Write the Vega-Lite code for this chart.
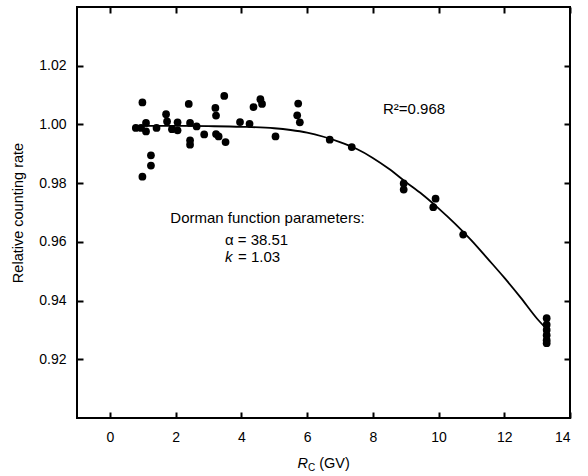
{
  "$schema": "https://vega.github.io/schema/vega-lite/v6.json",
  "autosize": "none",
  "width": 493,
  "height": 411,
  "padding": {"left": 77, "top": 7, "right": 18, "bottom": 58},
  "background": "white",
  "config": {
    "view": {"stroke": "black", "strokeWidth": 2},
    "font": "Liberation Sans",
    "axis": {
      "grid": false,
      "domain": false,
      "tickColor": "black",
      "tickWidth": 2,
      "tickSize": 6,
      "labelFont": "Liberation Sans",
      "labelFontSize": 14,
      "labelColor": "black",
      "titleFont": "Liberation Sans",
      "titleFontSize": 14.5,
      "titleFontWeight": "normal",
      "titleColor": "black"
    }
  },
  "datasets": {
    "curve": [
      {"R": 0.8, "rate": 0.9995},
      {"R": 2.0, "rate": 0.9995},
      {"R": 3.0, "rate": 0.9994},
      {"R": 4.0, "rate": 0.9992},
      {"R": 5.0, "rate": 0.9987},
      {"R": 5.5, "rate": 0.9981},
      {"R": 6.0, "rate": 0.9972},
      {"R": 6.5, "rate": 0.9958},
      {"R": 7.0, "rate": 0.9940},
      {"R": 7.5, "rate": 0.9917},
      {"R": 8.0, "rate": 0.9886},
      {"R": 8.5, "rate": 0.9848},
      {"R": 9.0, "rate": 0.9804},
      {"R": 9.5, "rate": 0.9762},
      {"R": 10.0, "rate": 0.9714},
      {"R": 10.5, "rate": 0.9662},
      {"R": 11.0, "rate": 0.9605},
      {"R": 11.5, "rate": 0.9542},
      {"R": 12.0, "rate": 0.9478},
      {"R": 12.5, "rate": 0.9410},
      {"R": 13.0, "rate": 0.9338},
      {"R": 13.3, "rate": 0.9302}
    ],
    "obs": [
      {"R": 0.79, "rate": 0.9988},
      {"R": 0.95, "rate": 0.9988},
      {"R": 0.99, "rate": 1.0075},
      {"R": 0.99, "rate": 0.9822},
      {"R": 1.10, "rate": 1.0005},
      {"R": 1.10, "rate": 0.9976},
      {"R": 1.25, "rate": 0.9895},
      {"R": 1.25, "rate": 0.9860},
      {"R": 1.42, "rate": 0.9988},
      {"R": 1.71, "rate": 1.0035},
      {"R": 1.74, "rate": 1.0010},
      {"R": 1.89, "rate": 0.9984},
      {"R": 2.06, "rate": 1.0007},
      {"R": 2.06, "rate": 0.9980},
      {"R": 2.40, "rate": 1.0070},
      {"R": 2.44, "rate": 1.0005},
      {"R": 2.44, "rate": 0.9946},
      {"R": 2.44, "rate": 0.9931},
      {"R": 2.64, "rate": 0.9993},
      {"R": 2.87, "rate": 0.9966},
      {"R": 3.21, "rate": 1.0056},
      {"R": 3.23, "rate": 1.0030},
      {"R": 3.23, "rate": 0.9967},
      {"R": 3.31, "rate": 0.9959},
      {"R": 3.52, "rate": 0.9940},
      {"R": 3.48, "rate": 1.0097},
      {"R": 3.96, "rate": 1.0008},
      {"R": 4.25, "rate": 1.0002},
      {"R": 4.37, "rate": 1.0059},
      {"R": 4.58, "rate": 1.0086},
      {"R": 4.63, "rate": 1.0070},
      {"R": 5.04, "rate": 0.9959},
      {"R": 5.73, "rate": 1.0071},
      {"R": 5.70, "rate": 1.0031},
      {"R": 5.78, "rate": 1.0007},
      {"R": 6.69, "rate": 0.9948},
      {"R": 7.36, "rate": 0.9923},
      {"R": 8.94, "rate": 0.9799},
      {"R": 8.94, "rate": 0.9778},
      {"R": 9.91, "rate": 0.9747},
      {"R": 9.84, "rate": 0.9718},
      {"R": 10.75, "rate": 0.9625},
      {"R": 13.29, "rate": 0.9340},
      {"R": 13.29, "rate": 0.9318},
      {"R": 13.29, "rate": 0.9300},
      {"R": 13.29, "rate": 0.9282},
      {"R": 13.29, "rate": 0.9265},
      {"R": 13.29, "rate": 0.9255}
    ],
    "notes": [
      {"R": 1.84, "rate": 0.9664, "label": "Dorman function parameters:", "size": 15},
      {"R": 3.50, "rate": 0.9588, "label": "α = 38.51", "size": 15},
      {"R": 3.90, "rate": 0.9533, "label": "= 1.03", "size": 15},
      {"R": 8.31, "rate": 1.0036, "label": "R²=0.968", "size": 15},
      {"R": 6.03, "rate": 0.8820, "label": "C", "size": 10},
      {"R": 6.37, "rate": 0.8830, "label": "(GV)", "size": 14.5}
    ],
    "italics": [
      {"R": 3.50, "rate": 0.9533, "label": "k", "size": 15},
      {"R": 5.71, "rate": 0.8830, "label": "R", "size": 14.5}
    ]
  },
  "layer": [
    {
      "data": {"name": "curve"},
      "mark": {"type": "line", "color": "black", "strokeWidth": 1.8, "interpolate": "monotone"},
      "encoding": {
        "x": {"field": "R", "type": "quantitative", "scale": {"domain": [-1, 14], "nice": false, "zero": false},
              "axis": {"orient": "bottom", "values": [0, 2, 4, 6, 8, 10, 12, 14], "title": null, "ticks": false, "tickSize": 0, "labelPadding": 12}},
        "y": {"field": "rate", "type": "quantitative", "scale": {"domain": [0.9, 1.04], "nice": false, "zero": false},
              "axis": {"orient": "left", "values": [0.92, 0.94, 0.96, 0.98, 1.0, 1.02], "format": ".2f", "title": "Relative counting rate", "ticks": false, "tickSize": 0, "labelPadding": 11, "titlePadding": 13}}
      }
    },
    {
      "data": {"name": "obs"},
      "mark": {"type": "circle", "color": "black", "opacity": 1, "size": 60},
      "encoding": {
        "x": {"field": "R", "type": "quantitative",
              "axis": {"orient": "top", "offset": -411, "values": [0, 2, 4, 6, 8, 10, 12, 14], "labels": false, "title": null}},
        "y": {"field": "rate", "type": "quantitative",
              "axis": {"orient": "right", "offset": -493, "values": [0.92, 0.94, 0.96, 0.98, 1.0, 1.02], "labels": false, "title": null}}
      }
    },
    {
      "data": {"name": "notes"},
      "mark": {"type": "text", "align": "left", "baseline": "alphabetic", "color": "black", "font": "Liberation Sans"},
      "encoding": {
        "x": {"field": "R", "type": "quantitative",
              "axis": {"orient": "bottom", "offset": -411, "values": [0, 2, 4, 6, 8, 10, 12, 14], "labels": false, "title": null}},
        "y": {"field": "rate", "type": "quantitative",
              "axis": {"orient": "left", "offset": -493, "values": [0.92, 0.94, 0.96, 0.98, 1.0, 1.02], "labels": false, "title": null}},
        "text": {"field": "label"},
        "size": {"field": "size", "type": "quantitative", "scale": null}
      }
    },
    {
      "data": {"name": "italics"},
      "mark": {"type": "text", "align": "left", "baseline": "alphabetic", "color": "black", "font": "Liberation Sans", "fontStyle": "italic"},
      "encoding": {
        "x": {"field": "R", "type": "quantitative", "axis": null},
        "y": {"field": "rate", "type": "quantitative", "axis": null},
        "text": {"field": "label"},
        "size": {"field": "size", "type": "quantitative", "scale": null}
      }
    }
  ],
  "resolve": {"axis": {"x": "independent", "y": "independent"}}
}
